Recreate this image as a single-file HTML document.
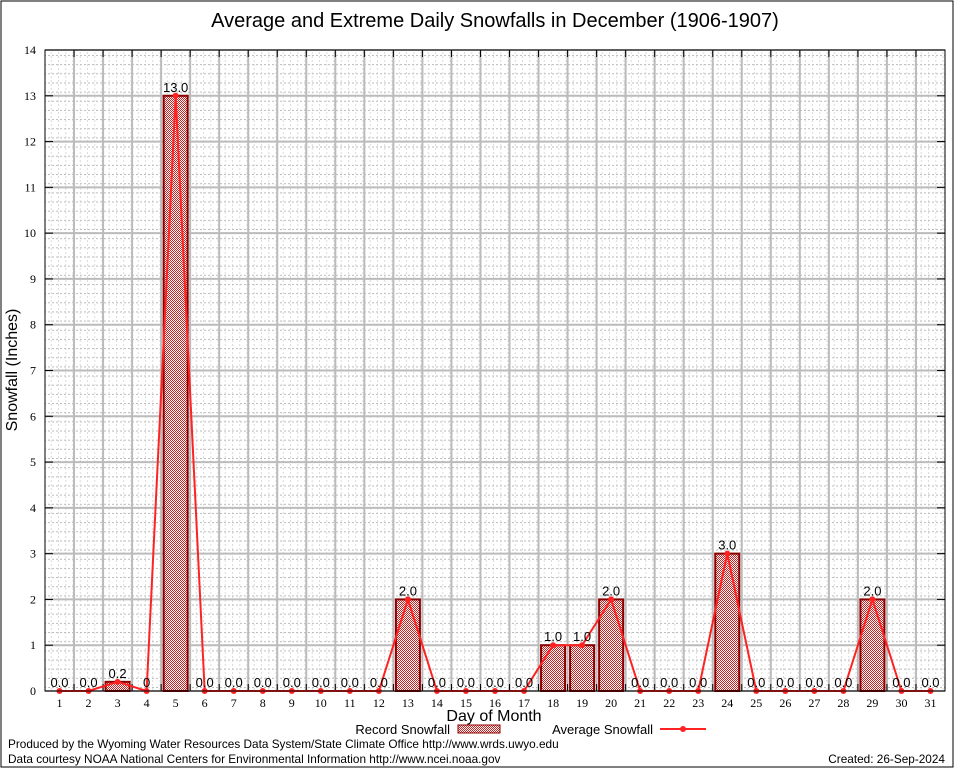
<!DOCTYPE html>
<html><head><meta charset="utf-8"><style>
body{margin:0;background:#fff}
svg{display:block}
</style></head><body>
<svg id="c" width="954" height="768" xmlns="http://www.w3.org/2000/svg">
<defs>
<pattern id="dots" width="4" height="9.16" patternUnits="userSpaceOnUse">
<rect x="0" y="0" width="2" height="1" fill="#bbb"/>
</pattern>
<pattern id="vdots" width="7.25" height="4" patternUnits="userSpaceOnUse">
<rect x="0" y="0" width="1" height="2" fill="#ccc"/>
</pattern>
<pattern id="hatch" width="2" height="2" patternUnits="userSpaceOnUse">
<rect width="2" height="2" fill="#fff"/>
<rect x="0" y="0" width="1" height="1" fill="#c22"/>
<rect x="1" y="1" width="1" height="1" fill="#c22"/>
</pattern>
</defs>
<rect x="1" y="1" width="952" height="766" fill="#fff" stroke="#000" stroke-width="1"/>
<text x="495" y="27" text-anchor="middle" font-family="Liberation Sans, sans-serif" font-size="20">Average and Extreme Daily Snowfalls in December (1906-1907)</text>
<g id="plot"></g>
<text transform="translate(17,370) rotate(-90)" text-anchor="middle" font-family="Liberation Sans, sans-serif" font-size="16">Snowfall (Inches)</text>
<text x="494" y="721" text-anchor="middle" font-family="Liberation Sans, sans-serif" font-size="16">Day of Month</text>
<g font-family="Liberation Sans, sans-serif" font-size="13">
<text x="450" y="734" text-anchor="end">Record Snowfall</text>
<rect x="458" y="725" width="42" height="8" fill="url(#hatch)" stroke="#8b0000"/>
<text x="653" y="734" text-anchor="end">Average Snowfall</text>
<line x1="660" y1="729" x2="706" y2="729" stroke="#f22" stroke-width="2"/>
<circle cx="683" cy="729" r="3" fill="#f22"/>
</g>
<text x="8" y="748" font-family="Liberation Sans, sans-serif" font-size="11.8">Produced by the Wyoming Water Resources Data System/State Climate Office http://www.wrds.uwyo.edu</text>
<text x="8" y="763" font-family="Liberation Sans, sans-serif" font-size="11.8">Data courtesy NOAA National Centers for Environmental Information http://www.ncei.noaa.gov</text>
<text x="945" y="763" text-anchor="end" font-family="Liberation Sans, sans-serif" font-size="11.8">Created:  26-Sep-2024</text>
</svg>
<script>
const days=[1,2,3,4,5,6,7,8,9,10,11,12,13,14,15,16,17,18,19,20,21,22,23,24,25,26,27,28,29,30,31];
const recordValues=[0,0,0.2,0,13,0,0,0,0,0,0,0,2,0,0,0,0,1,1,2,0,0,0,3,0,0,0,0,2,0,0];
const averageValues=[0,0,0.2,0,13,0,0,0,0,0,0,0,2,0,0,0,0,1,1,2,0,0,0,3,0,0,0,0,2,0,0];
const valueLabels=["0.0","0.0","0.2","0","13.0","0.0","0.0","0.0","0.0","0.0","0.0","0.0","2.0","0.0","0.0","0.0","0.0","1.0","1.0","2.0","0.0","0.0","0.0","3.0","0.0","0.0","0.0","0.0","2.0","0.0","0.0"];
const yTicks=[0,1,2,3,4,5,6,7,8,9,10,11,12,13,14];
const L=45,R=945,T=50,B=691;
function x(d){return L+(d-0.5)*(R-L)/31;}
function y(v){return B-v*(B-T)/14;}
const NS="http://www.w3.org/2000/svg";
const g=document.getElementById('plot');
function mk(tag,attrs,parent){const e=document.createElementNS(NS,tag);for(const k in attrs)e.setAttribute(k,attrs[k]);(parent||g).appendChild(e);return e;}
let e=mk('rect',{x:L,y:T,width:R-L,height:B-T,fill:'url(#dots)'});


e=mk('rect',{x:L,y:T,width:R-L,height:B-T,fill:'url(#vdots)',opacity:0.7});


yTicks.forEach(t=>{
 const l=mk('line',{x1:L,x2:R,y1:y(t),y2:y(t),stroke:'#bbb','stroke-width':2});
 
 
 const tk=mk('line',{x1:L,x2:L+8,y1:y(t),y2:y(t),stroke:'#000'});
 
 
 const tk2=mk('line',{x1:R-8,x2:R,y1:y(t),y2:y(t),stroke:'#000'});
 
 
 const tx=mk('text',{x:L-9,y:y(t)+4,'text-anchor':'end','font-family':'Liberation Serif, serif','font-size':12});
 tx.textContent=t;
 
 
});
for(let i=1;i<31;i++){
 const gx=x(i+0.5);
 const l=mk('line',{x1:gx,x2:gx,y1:T,y2:B,stroke:'#bbb','stroke-width':2});
 
 
 const t1=mk('line',{x1:gx,x2:gx,y1:T,y2:T+7,stroke:'#000'});
 
 
 const t2=mk('line',{x1:gx,x2:gx,y1:B-7,y2:B,stroke:'#000'});
 
 
}
days.forEach((d,i)=>{
 const tx=mk('text',{x:x(d),y:B+16,'text-anchor':'middle','font-family':'Liberation Serif, serif','font-size':12});
 tx.textContent=d;
 
 
 const v=recordValues[i];
 if(v>0){
  const w=24;
  const b=mk('rect',{x:x(d)-w/2,y:y(v),width:w,height:B-y(v),fill:'url(#hatch)',stroke:'#8b0000','stroke-width':2});
  
  
 }
});
const pts=days.map((d,i)=>x(d)+','+y(averageValues[i])).join(' ');
e=mk('polyline',{points:pts,fill:'none',stroke:'#f22','stroke-width':2});


days.forEach((d,i)=>{
 const c=mk('circle',{cx:x(d),cy:y(averageValues[i]),r:3,fill:'#f22'});
 
 
 const t=mk('text',{x:x(d),y:y(recordValues[i])-4,'text-anchor':'middle','font-family':'Liberation Sans, sans-serif','font-size':13});
 t.textContent=valueLabels[i];
 
 
});
e=mk('rect',{x:L,y:T,width:R-L,height:B-T,fill:'none',stroke:'#000','stroke-width':1});


</script>
</body></html>
